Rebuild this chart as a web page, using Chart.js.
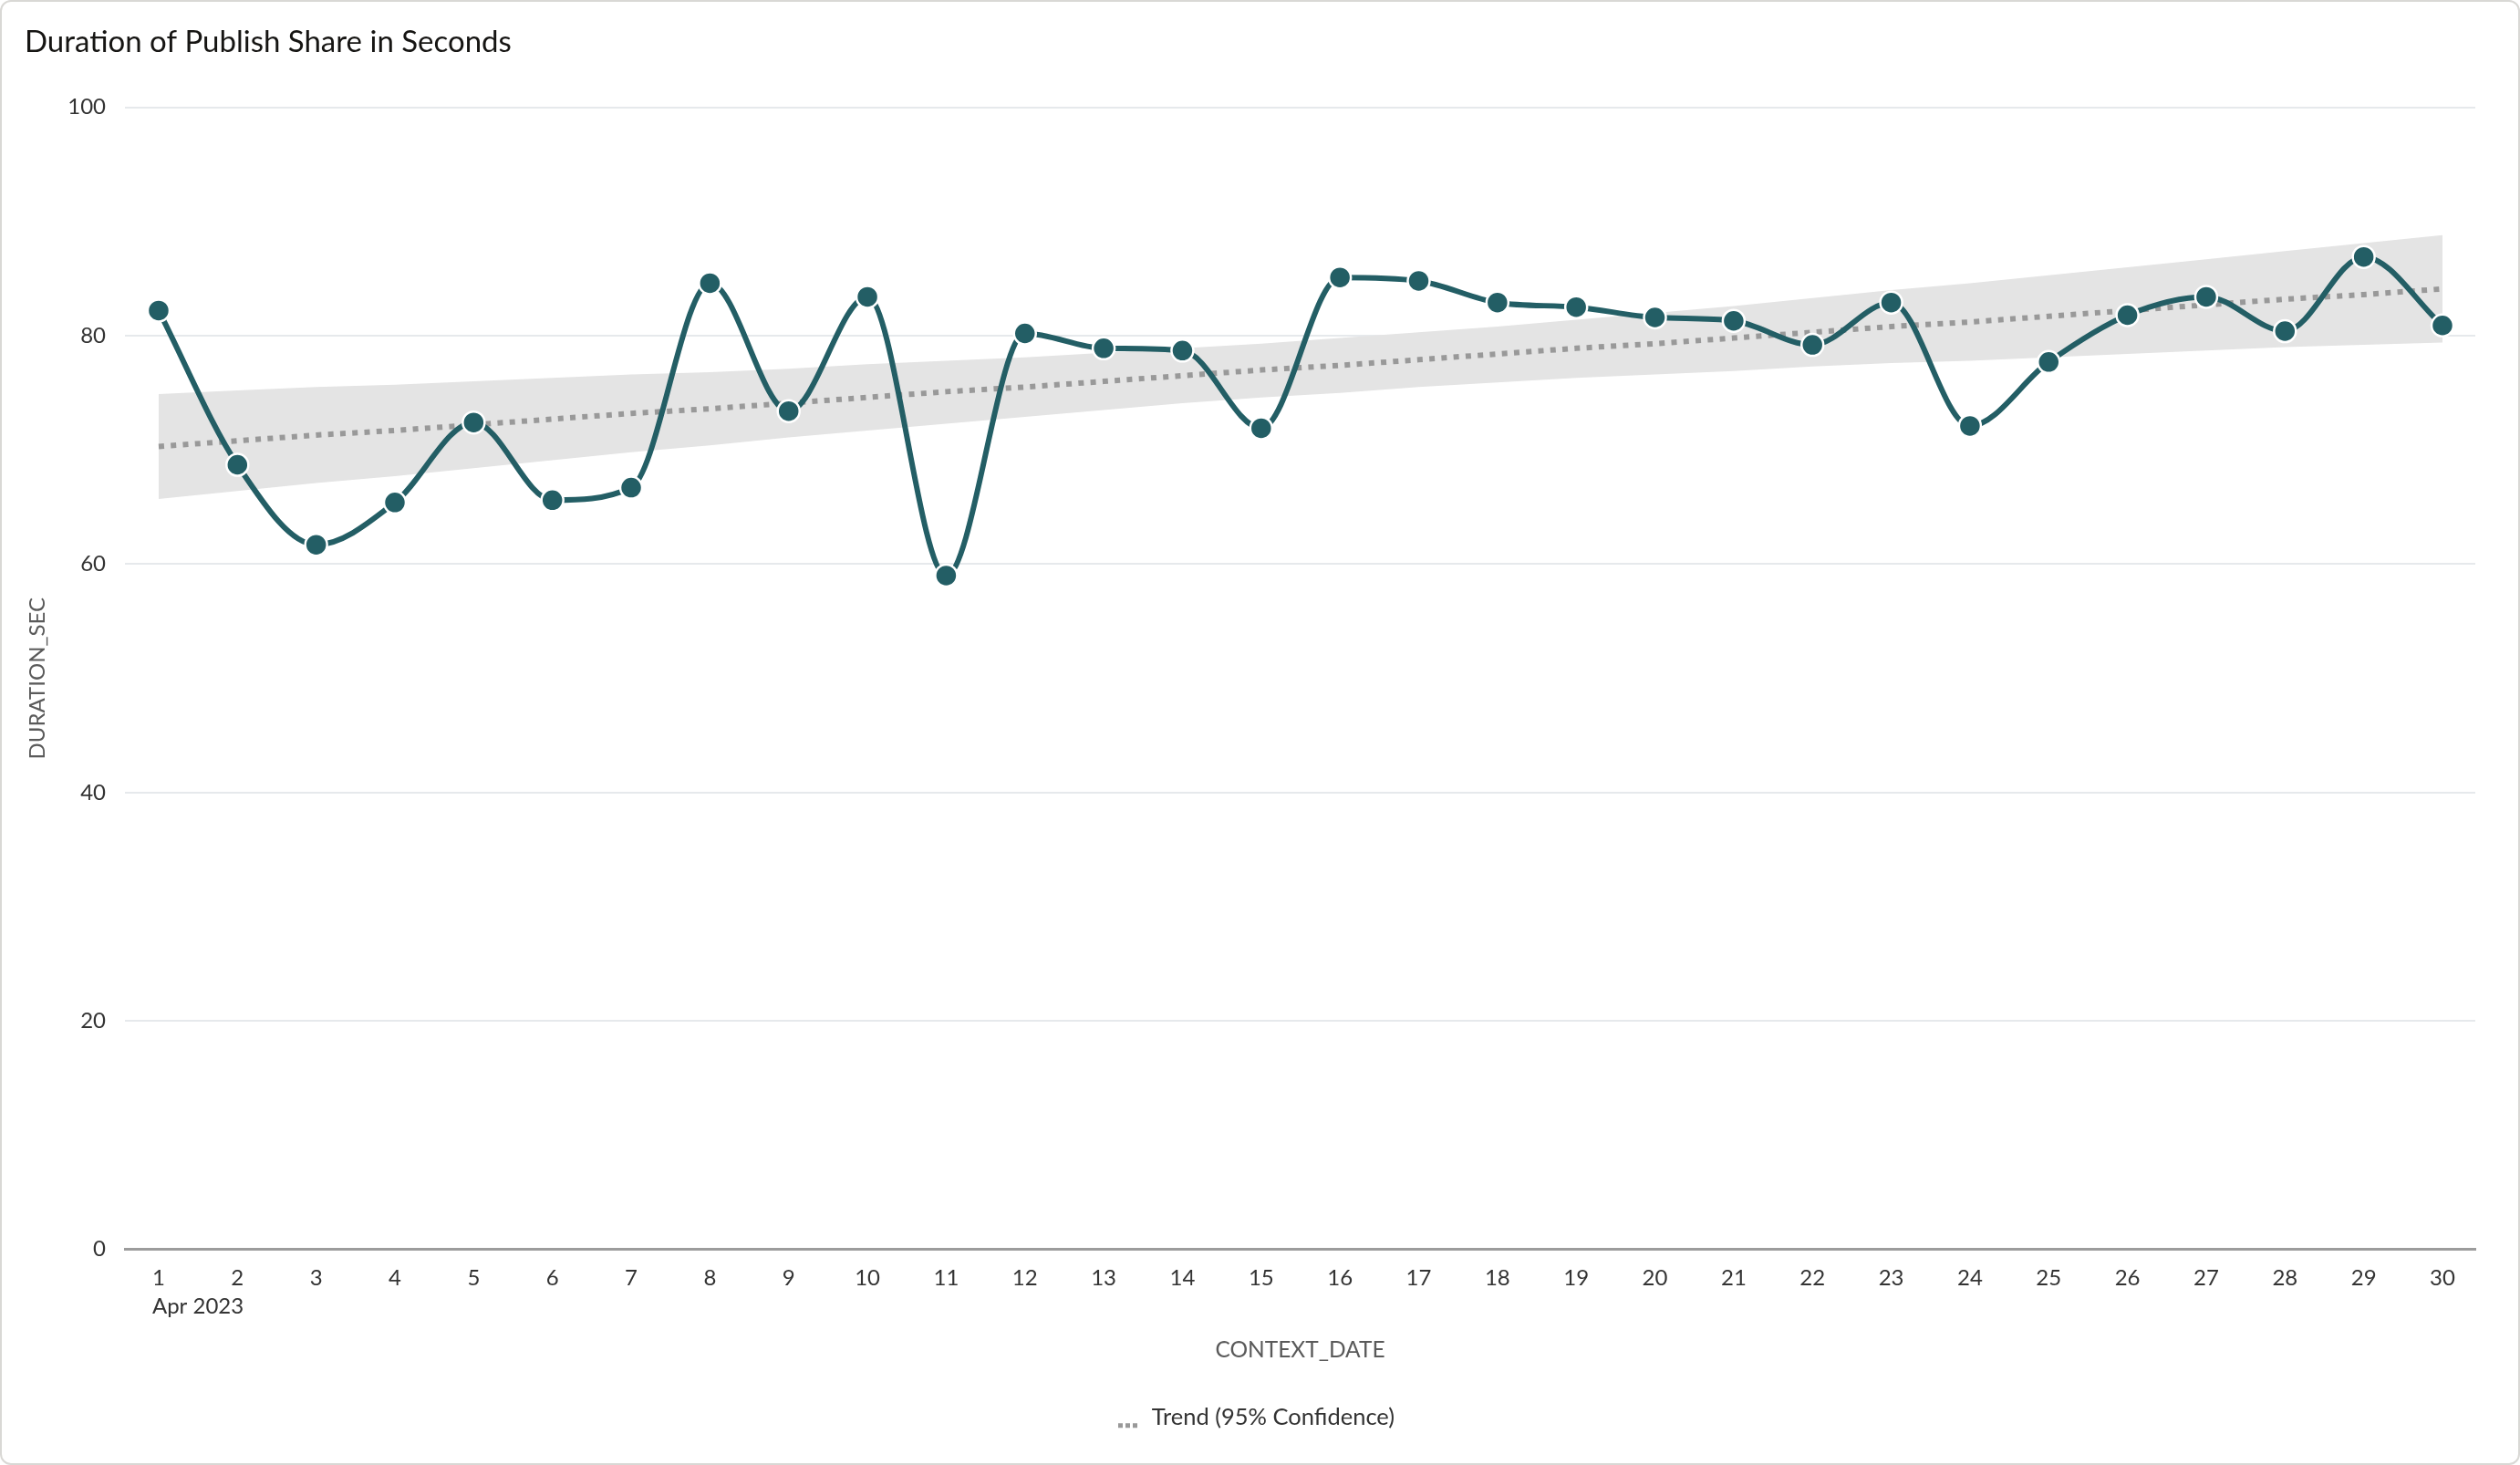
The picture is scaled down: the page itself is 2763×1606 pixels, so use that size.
<!DOCTYPE html>
<html>
<head>
<meta charset="utf-8">
<title>Duration of Publish Share in Seconds</title>
<script src="https://cdn.jsdelivr.net/npm/chart.js@4.4.0/dist/chart.umd.min.js"></script>
<style>
  html, body { margin: 0; padding: 0; background: #fff; }
  #card {
    position: relative;
    width: 2763px;
    height: 1606px;
    box-sizing: border-box;
    border: 2px solid #d9d8d5;
    border-radius: 12px;
    overflow: hidden;
  }
  #card canvas { display: block; }
</style>
</head>
<body>
<div id="card"><canvas id="durationChart"></canvas></div>
<script>
// days of April 2023
var days = [1, 2, 3, 4, 5, 6, 7, 8, 9, 10, 11, 12, 13, 14, 15,
            16, 17, 18, 19, 20, 21, 22, 23, 24, 25, 26, 27, 28, 29, 30];
var monthLabel = 'Apr 2023';

// DURATION_SEC per day
var durationSec = [82.2, 68.7, 61.7, 65.4, 72.4, 65.6, 66.7, 84.6, 73.4, 83.4,
                   59.0, 80.2, 78.9, 78.7, 71.9, 85.1, 84.8, 82.9, 82.5, 81.6,
                   81.3, 79.2, 82.9, 72.1, 77.7, 81.8, 83.4, 80.4, 86.9, 80.9];

// trend line and its 95% confidence band
var trend = [70.3, 70.8, 71.3, 71.7, 72.2, 72.7, 73.2, 73.6, 74.1, 74.6,
             75.1, 75.5, 76.0, 76.5, 77.0, 77.4, 77.9, 78.4, 78.9, 79.3,
             79.8, 80.3, 80.8, 81.2, 81.7, 82.2, 82.7, 83.2, 83.6, 84.1];
var trendUpper = [74.9, 75.2, 75.5, 75.7, 76.0, 76.3, 76.6, 76.8, 77.1, 77.5,
                  77.8, 78.1, 78.5, 78.9, 79.3, 79.8, 80.3, 80.8, 81.4, 82.0,
                  82.6, 83.3, 84.0, 84.6, 85.3, 86.0, 86.7, 87.4, 88.1, 88.8];
var trendLower = [65.7, 66.4, 67.1, 67.7, 68.4, 69.1, 69.8, 70.4, 71.1, 71.7,
                  72.3, 72.9, 73.5, 74.1, 74.6, 75.0, 75.5, 75.9, 76.3, 76.6,
                  76.9, 77.3, 77.6, 77.8, 78.1, 78.4, 78.7, 79.0, 79.2, 79.4];

var yTicks = [0, 20, 40, 60, 80, 100];

function points(values) {
  return days.map(function (d, i) { return { x: d, y: values[i] }; });
}

// legend marker: three gray squares (left part of the image left blank)
var trendMark = document.createElement('canvas');
trendMark.width = 38;
trendMark.height = 26;
var mctx = trendMark.getContext('2d');
mctx.fillStyle = '#999999';
[14, 22, 30].forEach(function (x) { mctx.fillRect(x, 19, 5, 5); });

var TICK_PAD = 16;
var TICK_LINE = 24 * 1.3;

// "Apr 2023" under the first day, left aligned
var monthPlugin = {
  id: 'monthLabel',
  afterDraw: function (chart) {
    var xs = chart.scales.x;
    var ctx = chart.ctx;
    ctx.save();
    ctx.font = '24px Lato';
    ctx.fillStyle = '#333333';
    ctx.textAlign = 'left';
    ctx.textBaseline = 'middle';
    ctx.fillText(monthLabel, xs.getPixelForValue(days[0]) - 7, xs.top + TICK_PAD + TICK_LINE * 1.5);
    ctx.restore();
  }
};

Chart.defaults.font.family = 'Lato';

var ctx = document.getElementById('durationChart');
var durationChart = new Chart(ctx, {
  type: 'line',
  data: {
    datasets: [{
      label: 'DURATION_SEC',
      data: points(durationSec),
      borderColor: '#235e65',
      borderWidth: 6,
      cubicInterpolationMode: 'monotone',
      pointRadius: 12,
      pointBackgroundColor: '#235e65',
      pointBorderColor: '#ffffff',
      pointBorderWidth: 2.5,
      fill: false
    }, {
      label: 'Trend (95% Confidence)',
      data: points(trend),
      borderColor: '#999999',
      borderWidth: 6,
      borderDash: [6, 7.3],
      pointRadius: 0,
      pointStyle: trendMark,
      tension: 0,
      fill: false
    }, {
      label: 'upper',
      data: points(trendUpper),
      borderWidth: 0,
      pointRadius: 0,
      tension: 0,
      backgroundColor: '#e4e4e4',
      fill: '+1'
    }, {
      label: 'lower',
      data: points(trendLower),
      borderWidth: 0,
      pointRadius: 0,
      tension: 0,
      fill: false
    }]
  },
  options: {
    responsive: true,
    maintainAspectRatio: false,
    animation: false,
    layout: {
      padding: { left: 25, right: 47, top: 0, bottom: 27 }
    },
    plugins: {
      title: {
        display: true,
        text: 'Duration of Publish Share in Seconds',
        align: 'start',
        color: '#161513',
        font: { size: 33, weight: 'normal' },
        padding: { top: 25, bottom: 51 }
      },
      legend: {
        position: 'bottom',
        labels: {
          usePointStyle: true,
          pointStyleWidth: 38,
          color: '#333333',
          font: { size: 25.5 },
          filter: function (item) { return item.datasetIndex === 1; }
        }
      },
      tooltip: { enabled: false }
    },
    scales: {
      x: {
        type: 'linear',
        min: 0.572,
        max: 30.417,
        afterBuildTicks: function (s) {
          s.ticks = days.map(function (d) { return { value: d }; });
        },
        ticks: {
          color: '#333333',
          font: { size: 24, lineHeight: 1.3 },
          padding: TICK_PAD,
          maxRotation: 0,
          autoSkip: false,
          callback: function (v) { return v === days[0] ? [String(v), ''] : String(v); }
        },
        grid: { display: false, drawTicks: false },
        border: { display: true, color: '#9c9c9c', width: 3 },
        title: {
          display: true,
          text: 'CONTEXT_DATE',
          color: '#5a5a5a',
          font: { size: 24.5 },
          padding: { top: 1.5, bottom: 36.5 }
        }
      },
      y: {
        min: 0,
        max: 100,
        afterBuildTicks: function (s) {
          s.ticks = yTicks.map(function (v) { return { value: v }; });
        },
        afterFit: function (s) { s.width = 110; },
        ticks: {
          color: '#333333',
          font: { size: 24 },
          padding: 21
        },
        grid: {
          drawTicks: false,
          lineWidth: 2,
          color: function (c) { return c.tick && c.tick.value === 0 ? 'rgba(0,0,0,0)' : '#e6e9ec'; }
        },
        border: { display: false },
        title: {
          display: true,
          text: 'DURATION_SEC',
          color: '#5a5a5a',
          font: { size: 24 },
          padding: { top: 0, bottom: 0 }
        }
      }
    }
  },
  plugins: [monthPlugin]
});
</script>
</body>
</html>
